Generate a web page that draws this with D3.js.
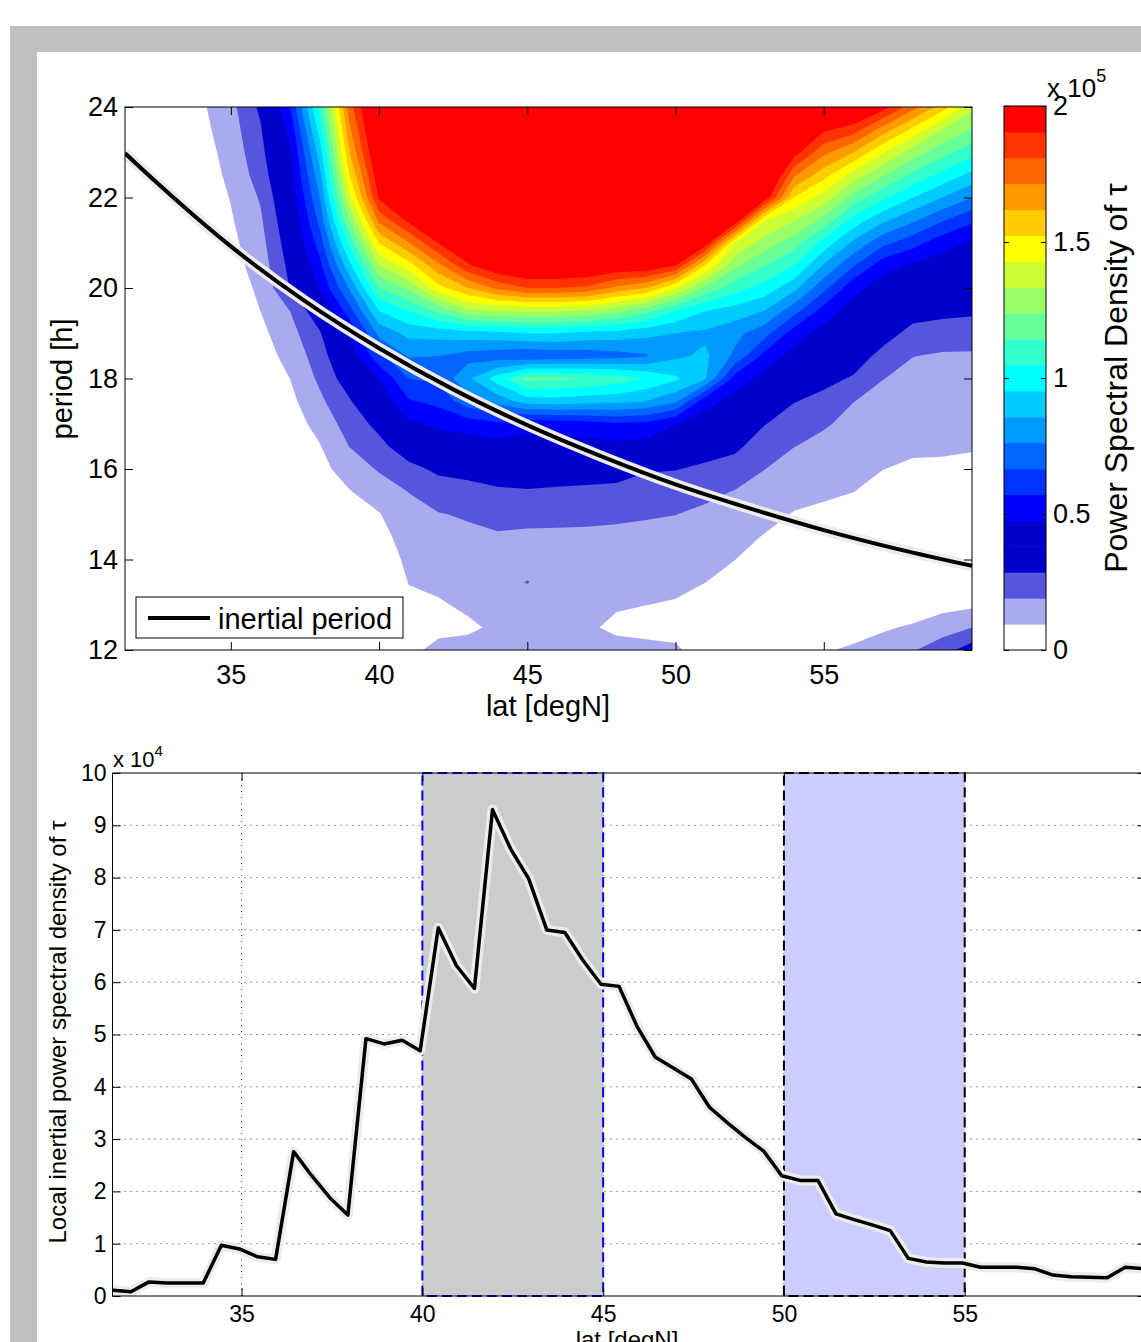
<!DOCTYPE html>
<html>
<head>
<meta charset="utf-8">
<script src="https://cdn.jsdelivr.net/npm/d3@7"></script>
<style>
body { margin: 0; background: #fff; }
text { font-family: "Liberation Sans", Arial, Helvetica, sans-serif; fill: #000; }
</style>
</head>
<body>
<svg width="1141" height="1342"></svg>
<script>
// ---- data: power spectral density of tau (units of 1e4), one row per latitude,
// values for periods 24, 23.5, ... 12 h
const gridLats = [31, 32, 33, 34, 35, 36, 37, 38, 39, 40, 41, 42, 43, 44, 45, 46, 47, 48, 49, 50, 51, 52, 53, 54, 55, 56, 57, 58, 59, 60]
const gridPeriods = [24, 23.5, 23, 22.5, 22, 21.5, 21, 20.5, 20, 19.5, 19, 18.5, 18, 17.5, 17, 16.5, 16, 15.5, 15, 14.5, 14, 13.5, 13, 12.5, 12]
const psd = [
  [0,0,0,0,0,0,0,0,0,0,0,0,0,0,0,0,0,0,0,0,0,0,0,0,0], // 31
  [0,0,0,0,0,0,0,0,0,0,0,0,0,0,0,0,0,0,0,0,0,0,0,0,0], // 32
  [0,0,0,0,0,0,0,0,0,0,0,0,0,0,0,0,0,0,0,0,0,0,0,0,0], // 33
  [0.8,0.67,0.52,0.38,0.29,0.19,0.1,0,0,0,0,0,0,0,0,0,0,0,0,0,0,0,0,0,0], // 34
  [1.62,1.48,1.33,1.19,1.0,0.86,0.71,0.57,0.43,0.29,0.19,0.1,0,0,0,0,0,0,0,0,0,0,0,0,0], // 35
  [3.05,2.76,2.57,2.33,2.0,1.76,1.57,1.38,1.14,0.96,0.71,0.48,0.29,0.14,0.05,0,0,0,0,0,0,0,0,0,0], // 36
  [5.71,5.05,4.57,4.28,4.0,3.71,3.43,3.14,2.9,1.92,1.57,1.29,0.96,0.71,0.48,0.29,0.14,0.05,0,0,0,0,0,0,0], // 37
  [10.85,9.9,9.04,8.28,7.62,6.95,6.19,5.43,4.8,3.62,2.76,2.38,2.09,1.71,1.29,0.9,0.67,0.43,0.24,0.1,0,0,0,0,0], // 38
  [17.61,16.95,16.19,15.23,14.0,12.38,10.76,9.23,7.71,6.28,4.8,4.09,3.43,2.76,2.33,1.92,1.38,0.9,0.57,0.29,0.1,0,0,0,0], // 39
  [21.4,20.9,20.5,19.8,19.2,17.4,15.3,13.3,11.4,9.55,7.9,6.4,4.8,4.0,3.14,2.57,2.0,1.43,0.9,0.57,0.29,0.1,0,0,0], // 40
  [21.9,21.9,21.4,20.9,20.2,19.3,17.1,14.8,12.6,10.5,8.85,7.7,6.67,5.62,4.57,3.43,2.57,1.92,1.67,1.43,1.19,0.98,0.76,0.57,0.67], // 41
  [21.9,21.9,21.9,21.4,20.9,20.0,19.1,16.9,14.9,11.7,8.95,7.62,6.86,6.0,4.95,4.19,3.05,2.38,1.86,1.62,1.38,1.14,0.86,0.67,1.25], // 42
  [21.9,21.9,21.9,21.9,21.4,20.9,20.3,18.9,16.2,13.1,9.14,7.24,8.38,7.24,5.24,4.19,3.14,2.57,2.0,1.71,1.52,1.33,1.1,0.81,1.25], // 43
  [21.9,21.9,21.9,21.9,21.9,21.4,20.9,20.0,17.4,13.4,9.24,7.05,10.0,8.0,5.52,4.38,3.52,2.67,2.19,1.81,1.62,1.48,1.33,1.1,1.2], // 44
  [21.9,21.9,21.9,21.9,21.9,21.9,21.4,20.5,18.1,13.5,9.55,6.76,11.7,9.04,5.05,4.38,3.62,2.76,2.24,1.71,1.43,1.95,1.38,1.29,1.24], // 45
  [21.9,21.9,21.9,21.9,21.9,21.9,21.9,20.5,18.1,13.5,9.55,6.95,11.6,9.14,5.14,4.38,3.52,2.67,2.19,1.71,1.43,1.33,1.29,1.24,1.19], // 46
  [21.9,21.9,21.9,21.9,21.9,21.9,21.9,20.3,17.9,13.3,9.24,7.05,11.4,8.95,5.33,4.38,3.43,2.62,2.14,1.71,1.48,1.33,1.24,1.1,1.2], // 47
  [21.9,21.9,21.9,21.9,21.9,21.9,21.4,20.0,16.9,12.7,9.14,7.24,11.0,8.85,5.62,4.47,3.33,2.57,2.09,1.67,1.43,1.24,1.05,0.76,1.3], // 48
  [21.9,21.9,21.9,21.9,21.9,21.9,21.4,20.0,16.2,11.8,8.85,7.52,10.4,8.57,5.52,4.38,2.95,2.38,2.0,1.62,1.38,1.14,0.96,0.57,1.3], // 49
  [21.9,21.9,21.9,21.9,21.9,21.9,20.9,19.1,14.35,10.5,8.57,8.38,9.7,7.8,4.8,4.0,2.9,2.28,1.92,1.57,1.33,1.1,0.9,0.52,1.15], // 50
  [21.9,21.9,21.9,21.9,21.9,21.4,19.8,15.2,12.2,9.55,8.38,8.76,8.67,5.14,4.19,3.33,2.67,2.14,1.71,1.43,1.19,0.96,0.67,0.38,0.29], // 51
  [21.9,21.9,21.9,21.9,21.4,20.0,14.35,12.6,10.85,9.14,7.9,7.43,5.33,4.38,3.81,3.05,2.48,1.86,1.52,1.24,0.96,0.71,0.48,0.29,0.29], // 52
  [21.9,21.9,21.9,21.4,19.8,14.35,12.9,11.5,10.1,8.57,7.05,5.43,4.38,3.62,2.9,2.38,1.92,1.57,1.24,0.9,0.67,0.48,0.33,0.19,0.19], // 53
  [21.9,21.4,19.5,17.3,15.2,13.4,11.9,10.5,8.85,7.05,5.24,4.38,3.62,2.9,2.38,1.92,1.52,1.24,0.9,0.67,0.48,0.33,0.24,0.19,0.29], // 54
  [20.9,19.2,17.4,15.6,13.9,12.1,10.1,8.47,6.95,5.33,4.38,3.81,3.14,2.57,2.0,1.67,1.38,1.07,0.81,0.57,0.38,0.29,0.24,0.38,0.86], // 55
  [20.5,18.6,16.2,13.9,12.0,10.1,8.38,6.76,5.05,4.28,3.81,3.33,2.76,1.92,1.67,1.43,1.19,0.96,0.71,0.52,0.38,0.29,0.33,0.57,1.1], // 56
  [19.5,16.7,14.35,12.5,10.7,8.76,6.95,5.14,4.28,3.81,3.24,2.57,1.92,1.67,1.43,1.19,0.96,0.71,0.52,0.38,0.29,0.24,0.33,0.86,1.29], // 57
  [17.5,15.0,12.9,11.2,9.55,7.8,6.1,4.62,3.9,3.24,2.57,1.92,1.71,1.52,1.29,1.05,0.86,0.62,0.48,0.33,0.29,0.29,0.48,1.05,1.81], // 58
  [15.7,13.3,11.8,10.2,8.57,6.76,5.14,4.28,3.71,3.14,2.38,1.81,1.62,1.43,1.24,1.03,0.86,0.67,0.48,0.33,0.29,0.33,0.67,1.43,2.48], // 59
  [13.6,12.3,10.85,9.24,7.62,5.9,4.62,4.09,3.52,3.05,2.28,1.81,1.62,1.43,1.19,1.0,0.81,0.67,0.48,0.38,0.33,0.43,0.76,1.9,3.33] // 60
]
// colours of the 21 contour bands, lowest first
const levelColors = ['#ffffff', '#aaaaee', '#5555dd', '#0000cc', '#0000cc', '#0000ff', '#0033ff', '#0066ff',
  '#0099ff', '#00ccff', '#00ffff', '#33ffcc', '#66ff99', '#99ff66', '#ccff33', '#ffff00', '#ffcc00',
  '#ff9900', '#ff6600', '#ff3300', '#ff0000']
const colorbarTicks = [0, 0.5, 1, 1.5, 2] // x 1e5

// inertial period
const inertialLat = [31.43, 32.5, 35, 37.5, 40, 42.5, 45, 47.5, 50, 52.5, 55, 57.5, 60]
const inertialPeriod = [22.98, 22.33, 20.92, 19.71, 18.67, 17.76, 16.97, 16.28, 15.66, 15.13, 14.65, 14.23, 13.86]

// local inertial PSD (units of 1e4)
const lineLats = [31.44, 31.94, 32.44, 32.94, 33.44, 33.94, 34.44, 34.94, 35.44, 35.94, 36.44, 36.94, 37.44, 37.94,
  38.44, 38.94, 39.44, 39.94, 40.44, 40.94, 41.44, 41.94, 42.44, 42.94, 43.44, 43.94, 44.44, 44.94, 45.44, 45.94,
  46.44, 46.94, 47.44, 47.94, 48.44, 48.94, 49.44, 49.94, 50.44, 50.94, 51.44, 51.94, 52.44, 52.94, 53.44, 53.94,
  54.44, 54.94, 55.44, 55.94, 56.44, 56.94, 57.44, 57.94, 58.44, 58.94, 59.44, 59.94]
const lineValues = [0.11, 0.08, 0.27, 0.25, 0.25, 0.25, 0.97, 0.9, 0.75, 0.7, 2.76, 2.3, 1.88, 1.55,
  4.92, 4.82, 4.89, 4.69, 7.04, 6.32, 5.88, 9.3, 8.55, 7.98, 7.0, 6.95, 6.42, 5.96, 5.92, 5.15,
  4.57, 4.36, 4.15, 3.61, 3.31, 3.03, 2.77, 2.3, 2.21, 2.21, 1.57, 1.46, 1.36, 1.25, 0.72, 0.65,
  0.63, 0.63, 0.55, 0.55, 0.55, 0.52, 0.4, 0.37, 0.36, 0.35, 0.55, 0.52]
const shadedRanges = [[40, 45], [50, 55]]

let svg = d3.select('svg')

// window frame
svg.append('rect').attr('x', 10).attr('y', 26).attr('width', 1131).attr('height', 1316).attr('fill', '#c0c0c0')
svg.append('rect').attr('x', 37).attr('y', 52).attr('width', 1104).attr('height', 1290).attr('fill', '#fff')

// ================= top panel: contour map =================
let topBox = {left: 125, right: 972, top: 107, bottom: 650}
let xTop = d3.scaleLinear().domain([31.43, 60]).range([topBox.left, topBox.right])
let yTop = d3.scaleLinear().domain([12, 24]).range([topBox.bottom, topBox.top])

svg.append('clipPath').attr('id', 'clipTop').append('rect')
    .attr('x', topBox.left).attr('y', topBox.top)
    .attr('width', topBox.right - topBox.left).attr('height', topBox.bottom - topBox.top)

let n = gridLats.length, m = gridPeriods.length
let grid = []
gridPeriods.forEach((p, j) => gridLats.forEach((lat, i) => grid.push(psd[i][j])))
let thresholds = levelColors.map((c, k) => k * 20 / 21)
let contours = d3.contours().size([n, m]).thresholds(thresholds)(grid)
let dLat = gridLats[1] - gridLats[0], dPer = gridPeriods[1] - gridPeriods[0]
let gridProj = d3.geoTransform({
    point: function(cx, cy) {
        this.stream.point(xTop(gridLats[0] + (cx - 0.5) * dLat), yTop(gridPeriods[0] + (cy - 0.5) * dPer))
    }
})
let gTop = svg.append('g').attr('clip-path', 'url(#clipTop)')
gTop.selectAll('path.band')
    .data(contours)
    .enter()
    .append('path')
    .attr('class', 'band')
    .attr('d', d3.geoPath(gridProj))
    .attr('fill', (d, i) => levelColors[i])

// inertial period curve with pale halo
let inertial = inertialLat.map((d, i) => [d, inertialPeriod[i]])
let inertialLine = d3.line().x(d => xTop(d[0])).y(d => yTop(d[1])).curve(d3.curveMonotoneX)
gTop.append('path').attr('d', inertialLine(inertial))
    .attr('fill', 'none').attr('stroke', '#ececec').attr('stroke-width', 11)
gTop.append('path').attr('d', inertialLine(inertial))
    .attr('fill', 'none').attr('stroke', '#000').attr('stroke-width', 4)

// axes (ticks point inward)
function styleAxis(g, size) {
    g.select('.domain').remove()
    g.selectAll('line').attr('stroke', '#000')
    g.selectAll('text').attr('font-size', size).attr('font-family', '"Liberation Sans", Arial, sans-serif')
}
svg.append('g').attr('transform', 'translate(0,' + topBox.bottom + ')')
    .call(d3.axisBottom(xTop).tickValues([35, 40, 45, 50, 55]).tickSize(-8).tickPadding(15))
    .call(g => styleAxis(g, 27))
svg.append('g').attr('transform', 'translate(0,' + topBox.top + ')')
    .call(d3.axisTop(xTop).tickValues([35, 40, 45, 50, 55]).tickSize(-8).tickFormat(''))
    .call(g => styleAxis(g, 27))
svg.append('g').attr('transform', 'translate(' + topBox.left + ',0)')
    .call(d3.axisLeft(yTop).tickValues([12, 14, 16, 18, 20, 22, 24]).tickSize(-8).tickPadding(7))
    .call(g => styleAxis(g, 27))
svg.append('g').attr('transform', 'translate(' + topBox.right + ',0)')
    .call(d3.axisRight(yTop).tickValues([12, 14, 16, 18, 20, 22, 24]).tickSize(-8).tickFormat(''))
    .call(g => styleAxis(g, 27))
svg.append('rect').attr('x', topBox.left).attr('y', topBox.top)
    .attr('width', topBox.right - topBox.left).attr('height', topBox.bottom - topBox.top)
    .attr('fill', 'none').attr('stroke', '#000').attr('stroke-width', 1)

svg.append('text').attr('x', 548).attr('y', 716).attr('text-anchor', 'middle')
    .attr('font-size', 29).text('lat [degN]')
svg.append('text').attr('transform', 'translate(72,379) rotate(-90)').attr('text-anchor', 'middle')
    .attr('font-size', 29).text('period [h]')

// legend
svg.append('rect').attr('x', 136).attr('y', 597).attr('width', 267).attr('height', 41)
    .attr('fill', '#fff').attr('stroke', '#000').attr('stroke-width', 1)
svg.append('line').attr('x1', 148).attr('x2', 210).attr('y1', 618).attr('y2', 618)
    .attr('stroke', '#000').attr('stroke-width', 4)
svg.append('text').attr('x', 218).attr('y', 629).attr('font-size', 29).text('inertial period')

// colorbar
let cb = {left: 1004, right: 1046}
let cbY = d3.scaleLinear().domain([0, 20]).range([650, 106])
svg.selectAll('rect.cb')
    .data(thresholds)
    .enter()
    .append('rect')
    .attr('class', 'cb')
    .attr('x', cb.left)
    .attr('y', d => cbY(d + 20 / 21))
    .attr('width', cb.right - cb.left)
    .attr('height', d => cbY(d) - cbY(d + 20 / 21) + 0.5)
    .attr('fill', (d, i) => levelColors[i])
svg.append('g').attr('transform', 'translate(' + cb.right + ',0)')
    .call(d3.axisRight(cbY).tickValues(colorbarTicks.map(d => d * 10)).tickSize(-5).tickPadding(7)
        .tickFormat(d => d3.format('~g')(d / 10)))
    .call(g => styleAxis(g, 27))
svg.append('g').attr('transform', 'translate(' + cb.left + ',0)')
    .call(d3.axisLeft(cbY).tickValues(colorbarTicks.map(d => d * 10)).tickSize(-5).tickFormat(''))
    .call(g => styleAxis(g, 27))
svg.append('rect').attr('x', cb.left).attr('y', 106).attr('width', cb.right - cb.left).attr('height', 544)
    .attr('fill', 'none').attr('stroke', '#000').attr('stroke-width', 1)
let exp5 = svg.append('text').attr('x', 1047).attr('y', 97).attr('font-size', 26)
exp5.append('tspan').text('x 10')
exp5.append('tspan').attr('dy', -15).attr('font-size', 18).text('5')
svg.append('text').attr('transform', 'translate(1127,378) rotate(-90)').attr('text-anchor', 'middle')
    .attr('font-size', 32).text('Power Spectral Density of τ')

// ================= bottom panel: local inertial PSD =================
let botBox = {left: 112.5, right: 1145.5, top: 773, bottom: 1296}
let xBot = d3.scaleLinear().domain([31.43, 60]).range([botBox.left, botBox.right])
let yBot = d3.scaleLinear().domain([0, 10]).range([botBox.bottom, botBox.top])

// dotted grid
let gridG = svg.append('g')
gridG.selectAll('line.h')
    .data([1, 2, 3, 4, 5, 6, 7, 8, 9])
    .enter()
    .append('line')
    .attr('x1', botBox.left).attr('x2', botBox.right)
    .attr('y1', d => yBot(d)).attr('y2', d => yBot(d))
    .attr('stroke', '#333').attr('stroke-width', 1).attr('stroke-dasharray', '1,5')
gridG.selectAll('line.v')
    .data([35, 40, 45, 50, 55])
    .enter()
    .append('line')
    .attr('x1', d => xBot(d)).attr('x2', d => xBot(d))
    .attr('y1', botBox.top).attr('y2', botBox.bottom)
    .attr('stroke', '#333').attr('stroke-width', 1).attr('stroke-dasharray', '1,5')

// shaded latitude ranges
let shadeFill = ['#cccccc', '#ccccff'], shadeEdge = ['#0000ff', '#000000']
svg.selectAll('rect.shade')
    .data(shadedRanges)
    .enter()
    .append('rect')
    .attr('x', d => xBot(d[0]))
    .attr('y', yBot(10))
    .attr('width', d => xBot(d[1]) - xBot(d[0]))
    .attr('height', yBot(0) - yBot(10))
    .attr('fill', (d, i) => shadeFill[i])
    .attr('stroke', (d, i) => shadeEdge[i])
    .attr('stroke-width', 2)
    .attr('stroke-dasharray', '10,5')

// PSD line with halo
let psdLine = d3.line().x((d, i) => xBot(lineLats[i])).y(d => yBot(d))
svg.append('path').attr('d', psdLine(lineValues))
    .attr('fill', 'none').attr('stroke', '#ececec').attr('stroke-width', 10).attr('stroke-linejoin', 'round')
svg.append('path').attr('d', psdLine(lineValues))
    .attr('fill', 'none').attr('stroke', '#000').attr('stroke-width', 3.5).attr('stroke-linejoin', 'round')

svg.append('g').attr('transform', 'translate(0,' + botBox.bottom + ')')
    .call(d3.axisBottom(xBot).tickValues([35, 40, 45, 50, 55]).tickSize(-8).tickPadding(10))
    .call(g => styleAxis(g, 23))
svg.append('g').attr('transform', 'translate(0,' + botBox.top + ')')
    .call(d3.axisTop(xBot).tickValues([35, 40, 45, 50, 55]).tickSize(-8).tickFormat(''))
    .call(g => styleAxis(g, 23))
svg.append('g').attr('transform', 'translate(' + botBox.left + ',0)')
    .call(d3.axisLeft(yBot).ticks(10).tickSize(-8).tickPadding(6))
    .call(g => styleAxis(g, 23))
svg.append('g').attr('transform', 'translate(' + botBox.right + ',0)')
    .call(d3.axisRight(yBot).ticks(10).tickSize(-8).tickFormat(''))
    .call(g => styleAxis(g, 23))
svg.append('rect').attr('x', botBox.left).attr('y', botBox.top)
    .attr('width', botBox.right - botBox.left).attr('height', botBox.bottom - botBox.top)
    .attr('fill', 'none').attr('stroke', '#000').attr('stroke-width', 1)

let exp4 = svg.append('text').attr('x', 113).attr('y', 767).attr('font-size', 22)
exp4.append('tspan').text('x 10')
exp4.append('tspan').attr('dy', -11).attr('font-size', 15).text('4')
svg.append('text').attr('transform', 'translate(66,1032) rotate(-90)').attr('text-anchor', 'middle')
    .attr('font-size', 24).text('Local inertial power spectral density of τ')
svg.append('text').attr('x', 627).attr('y', 1348).attr('text-anchor', 'middle')
    .attr('font-size', 24).text('lat [degN]')
</script>
</body>
</html>
